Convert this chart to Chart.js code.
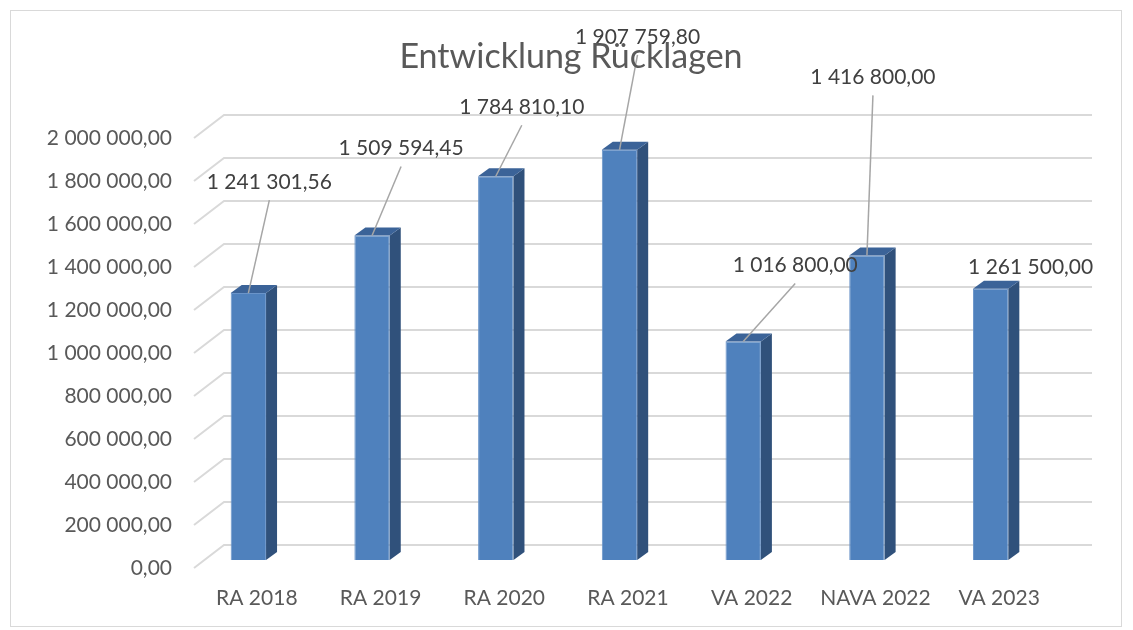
<!DOCTYPE html>
<html lang="de">
<head>
  <meta charset="UTF-8" />
  <title>Entwicklung Rücklagen</title>
  <script src="https://cdn.jsdelivr.net/npm/chart.js"></script>
  <style>
    html, body { margin: 0; padding: 0; background: #fff; }
    .wrap { position: relative; width: 1133px; height: 630px; }
  </style>
</head>
<body>
  <div class="wrap"><canvas id="chart"></canvas></div>

  <script>
    const categories = ['RA 2018', 'RA 2019', 'RA 2020', 'RA 2021', 'VA 2022', 'NAVA 2022', 'VA 2023'];
    const values = [1241301.56, 1509594.45, 1784810.10, 1907759.80, 1016800.00, 1416800.00, 1261500.00];
    const yMin = 0, yMax = 2000000, yStep = 200000;
    const chartTitle = 'Entwicklung Rücklagen';

    // where each data label sits relative to the top of its bar (Excel moved them by hand)
    const labelOffsets = [[21, -111], [29, -87], [26, -69], [18, -113], [52, -76], [6, -178], [40, -22]];

    const FONT = 'Lato, "Liberation Sans", sans-serif';
    const DEPTH_X = 11, DEPTH_Y = -8;   // bar side / top face

    function fmt(v) {
      const parts = v.toFixed(2).split('.');
      return parts[0].replace(/\B(?=(\d{3})+(?!\d))/g, ' ') + ',' + parts[1];
    }

    const pseudo3d = {
      id: 'pseudo3d',
      beforeDraw(chart) {
        const ctx = chart.ctx;
        ctx.save();
        ctx.strokeStyle = '#d9d9d9';
        ctx.lineWidth = 1;
        ctx.strokeRect(10.5, 10.5, 1111, 616);
        ctx.restore();
      },
      beforeDatasetsDraw(chart) {
        const ctx = chart.ctx, area = chart.chartArea, y = chart.scales.y;
        ctx.save();
        ctx.strokeStyle = '#d9d9d9';
        ctx.lineWidth = 2;
        y.ticks.forEach(t => {
          const py = y.getPixelForValue(t.value);
          ctx.beginPath();
          ctx.moveTo(area.left + 7.5, py + 8);
          ctx.lineTo(area.left + 37.5, py - 15);
          ctx.lineTo(area.right + 39.5, py - 15);
          ctx.stroke();
        });
        ctx.restore();
      },
      afterDatasetsDraw(chart) {
        const ctx = chart.ctx;
        const meta = chart.getDatasetMeta(0);
        ctx.save();
        meta.data.forEach(bar => {
          const p = bar.getProps(['x', 'y', 'base', 'width'], true);
          const x1 = p.x - p.width / 2, x2 = p.x + p.width / 2;
          // side face
          ctx.fillStyle = '#30517b';
          ctx.beginPath();
          ctx.moveTo(x2, p.y);
          ctx.lineTo(x2 + DEPTH_X, p.y + DEPTH_Y);
          ctx.lineTo(x2 + DEPTH_X, p.base + DEPTH_Y);
          ctx.lineTo(x2, p.base);
          ctx.closePath();
          ctx.fill();
          // top face
          ctx.fillStyle = '#3b6398';
          ctx.beginPath();
          ctx.moveTo(x1, p.y);
          ctx.lineTo(x1 + DEPTH_X, p.y + DEPTH_Y);
          ctx.lineTo(x2 + DEPTH_X, p.y + DEPTH_Y);
          ctx.lineTo(x2, p.y);
          ctx.closePath();
          ctx.fill();
        });

        // data labels with leader lines
        ctx.font = '21px ' + FONT;
        ctx.textAlign = 'center';
        ctx.textBaseline = 'middle';
        meta.data.forEach((bar, i) => {
          const p = bar.getProps(['x', 'y'], true);
          const [dx, dy] = labelOffsets[i];
          const lx = p.x + dx, ly = p.y + dy;
          if (dy < -40) {
            ctx.strokeStyle = '#a6a6a6';
            ctx.lineWidth = 1.5;
            ctx.beginPath();
            ctx.moveTo(lx, ly + 18);
            ctx.lineTo(p.x, p.y);
            ctx.stroke();
          }
          ctx.fillStyle = '#404040';
          ctx.fillText(fmt(values[i]), lx, ly);
        });

        ctx.font = '34px ' + FONT;
        ctx.fillStyle = '#595959';
        ctx.fillText(chartTitle, 571, 57);
        ctx.restore();
      }
    };

    new Chart(document.getElementById('chart'), {
      type: 'bar',
      data: {
        labels: categories,
        datasets: [{
          data: values,
          backgroundColor: '#4f81bd',
          borderColor: '#6a94c9',
          borderWidth: 1,
          barPercentage: 0.286,
          categoryPercentage: 1
        }]
      },
      options: {
        responsive: true,
        maintainAspectRatio: false,
        animation: false,
        layout: { padding: { left: 0, top: 130, right: 80.5, bottom: 0 } },
        plugins: {
          legend: { display: false },
          title: { display: false },
          tooltip: { enabled: false }
        },
        scales: {
          x: {
            grid: { display: false, drawTicks: false },
            border: { display: false },
            ticks: { color: '#595959', font: { family: FONT, size: 21 }, padding: 25.4, labelOffset: 8.5, maxRotation: 0 },
            afterFit: s => { s.height = 70; }
          },
          y: {
            min: yMin,
            max: yMax,
            grid: { display: false, drawTicks: false },
            border: { display: false },
            ticks: {
              stepSize: yStep,
              color: '#595959',
              font: { family: FONT, size: 21 },
              padding: 14.5,
              labelOffset: 8,
              callback: v => fmt(v)
            },
            afterFit: s => { s.width = 186.5; }
          }
        }
      },
      plugins: [pseudo3d]
    });
  </script>
</body>
</html>
